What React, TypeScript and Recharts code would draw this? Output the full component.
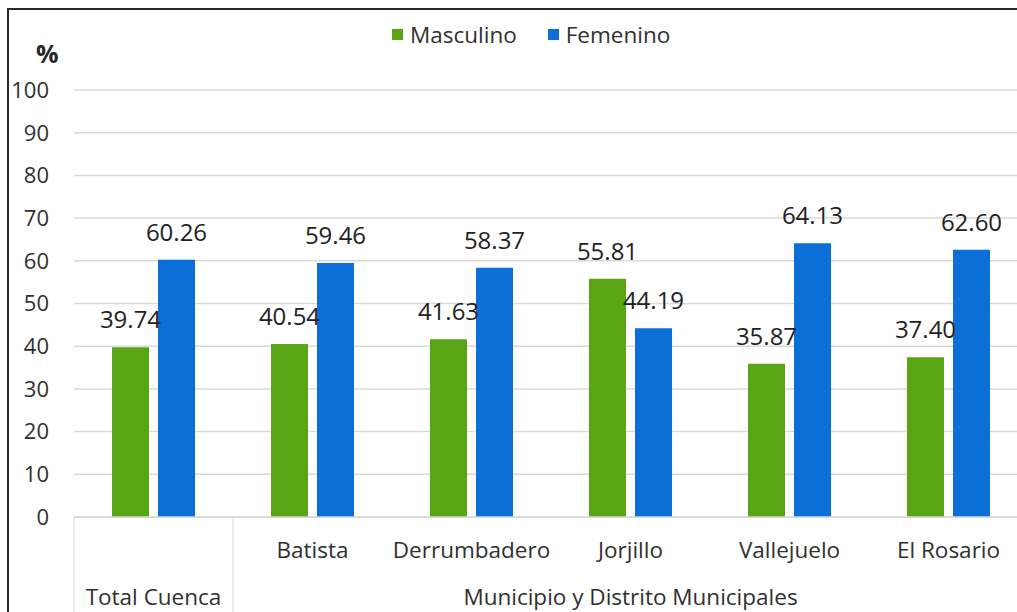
import React from 'react';
import { BarChart, Bar, XAxis, YAxis, CartesianGrid, Legend, LabelList } from 'recharts';

const categories = ['Total Cuenca', 'Batista', 'Derrumbadero', 'Jorjillo', 'Vallejuelo', 'El Rosario'];
const masculino = [39.74, 40.54, 41.63, 55.81, 35.87, 37.4];
const femenino = [60.26, 59.46, 58.37, 44.19, 64.13, 62.6];
const yTicks = [0, 10, 20, 30, 40, 50, 60, 70, 80, 90, 100];
const seriesNames = ['Masculino', 'Femenino'];
const groupLabel = 'Municipio y Distrito Municipales';
const unitLabel = '%';

const COLORS = ['#5AA514', '#0A6FD6'];
const FONT = "'Open Sans', 'Noto Sans', sans-serif";
const TEXT = '#303030';
const GRID = '#d9d9d9';
const CAT_SIZE = 22.5;

const data = categories.map((c, i) => ({
  name: c,
  [seriesNames[0]]: masculino[i],
  [seriesNames[1]]: femenino[i],
}));

const CategoryTick = (props: any) => {
  const { x, y, payload, index, width } = props;
  const half = payload && payload.offset ? payload.offset : width / categories.length / 2;
  const last = categories.length - 1;
  const mid = Math.floor((1 + last) / 2);
  const els: any[] = [];
  if (index === 0) {
    els.push(
      <text key="r2" x={x} y={y + 88} textAnchor="middle" fill={TEXT} fontSize={CAT_SIZE} fontFamily={FONT}>
        {payload.value}
      </text>
    );
    els.push(<line key="l0" x1={x - half} x2={x - half} y1={y} y2={y + 120} stroke={GRID} strokeWidth={1} />);
    els.push(<line key="l1" x1={x + half} x2={x + half} y1={y} y2={y + 120} stroke={GRID} strokeWidth={1} />);
  } else {
    els.push(
      <text key="r1" x={x} y={y + 41} textAnchor="middle" fill={TEXT} fontSize={CAT_SIZE} fontFamily={FONT}>
        {payload.value}
      </text>
    );
  }
  if (index === mid) {
    els.push(
      <text key="g" x={x} y={y + 88} textAnchor="middle" fill={TEXT} fontSize={CAT_SIZE} fontFamily={FONT}>
        {groupLabel}
      </text>
    );
  }
  if (index === last) {
    els.push(<line key="l2" x1={x + half} x2={x + half} y1={y} y2={y + 120} stroke={GRID} strokeWidth={1} />);
  }
  return <g>{els}</g>;
};

const LegendContent = (props: any) => {
  const payload = [...(props.payload || [])].sort(
    (a: any, b: any) => seriesNames.indexOf(a.value) - seriesNames.indexOf(b.value)
  );
  return (
    <div style={{ display: 'flex', alignItems: 'center', fontFamily: FONT, fontSize: 22.5, color: TEXT, lineHeight: '29px' }}>
      {payload.map((p: any, i: number) => (
        <div key={p.value} style={{ display: 'flex', alignItems: 'center', marginRight: i === 0 ? 31 : 0 }}>
          <span style={{ width: 11, height: 11, background: p.color, marginRight: 7, display: 'inline-block' }} />
          <span>{p.value}</span>
        </div>
      ))}
    </div>
  );
};

export default function App() {
  return (
    <div style={{ position: 'absolute', left: 0, top: 0, width: 1017, height: 612, overflow: 'hidden', background: '#fff' }}>
      <div
        style={{
          position: 'absolute',
          left: 7,
          top: 8,
          width: 1100,
          height: 700,
          borderTop: '2px solid #2a2a2a',
          borderLeft: '2px solid #2a2a2a',
        }}
      />
      <div
        style={{
          position: 'absolute',
          left: 36,
          top: 36,
          fontFamily: FONT,
          fontSize: 25,
          fontWeight: 700,
          color: '#262626',
        }}
      >
        {unitLabel}
      </div>
      <div style={{ position: 'absolute', left: 0, top: 0 }}>
        <BarChart
          width={1040}
          height={612}
          data={data}
          margin={{ top: 90, right: 12, bottom: 0, left: 14 }}
          barSize={37}
          barGap={9}
        >
          <CartesianGrid vertical={false} stroke={GRID} strokeWidth={1.5} />
          <XAxis
            dataKey="name"
            height={95}
            tickLine={false}
            tickSize={0}
            tickMargin={0}
            axisLine={{ stroke: GRID, strokeWidth: 1.5 }}
            tick={<CategoryTick />}
            interval={0}
          />
          <YAxis
            width={60}
            domain={[0, 100]}
            ticks={yTicks}
            axisLine={false}
            tickLine={false}
            tickSize={6}
            tickMargin={19}
            tick={{ fill: TEXT, fontSize: 22, fontFamily: FONT }}
          />
          <Legend
            layout="horizontal"
            verticalAlign="middle"
            align="center"
            content={<LegendContent />}
            wrapperStyle={{ top: 20, left: 392, width: 340, height: 29 }}
          />
          {seriesNames.map((s, i) => (
            <Bar key={s} dataKey={s} fill={COLORS[i]} isAnimationActive={false}>
              <LabelList
                dataKey={s}
                position="top"
                offset={19}
                formatter={(v: any) => Number(v).toFixed(2)}
                fill="#222"
                fontSize={24}
                fontFamily={FONT}
              />
            </Bar>
          ))}
        </BarChart>
      </div>
    </div>
  );
}
